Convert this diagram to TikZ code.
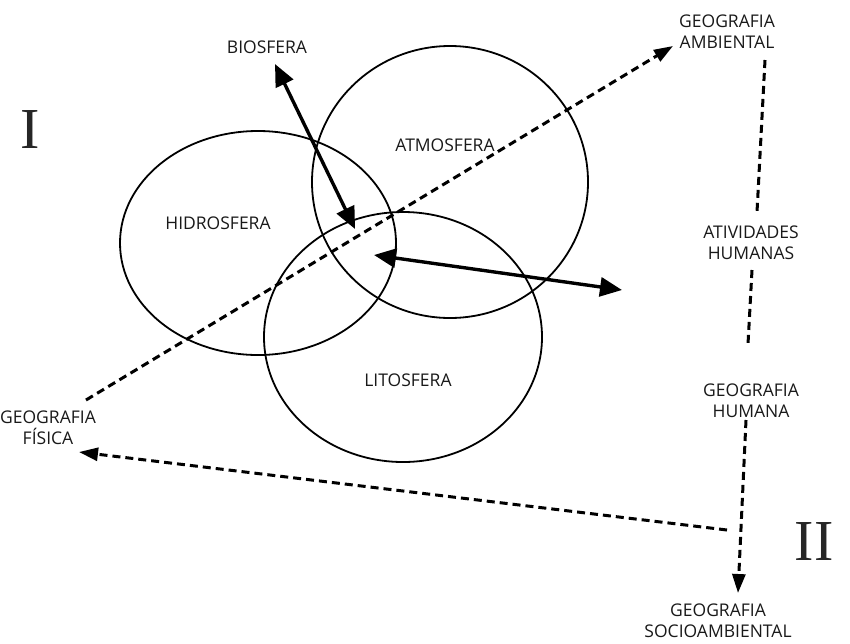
\documentclass[tikz,border=0pt]{standalone}
\usepackage{fontspec}
\setmainfont{Open Sans}
\newfontfamily\romfont{Liberation Serif}
\usetikzlibrary{arrows.meta}
\begin{document}
\begin{tikzpicture}[x=1pt,y=-1pt,
  lbl/.style={font=\fontsize{17.5}{21}\selectfont, text=black!90, align=center, inner sep=1pt},
  roman/.style={font=\romfont\fontsize{58}{58}\selectfont, text=black!85, inner sep=0pt},
  sphere/.style={draw, line width=1.8pt},
  solidarrow/.style={line width=3.4pt, {Triangle[length=22pt,width=19pt]}-{Triangle[length=22pt,width=19pt]}},
  dasharrow/.style={line width=3pt, dash pattern=on 8pt off 5pt, -{Triangle[length=19pt,width=13pt]}},
  dashline/.style={line width=3pt, dash pattern=on 8pt off 5pt}]
\useasboundingbox (0,0) rectangle (850,643);
% spheres
\draw[sphere] (258,243) ellipse [x radius=138, y radius=112];
\draw[sphere] (450,182) ellipse [x radius=138, y radius=136];
\draw[sphere] (403,337) ellipse [x radius=139, y radius=125];
% labels
\node[lbl] (bio) at (267,47) {BIOSFERA};
\node[lbl] (atm) at (445,145) {ATMOSFERA};
\node[lbl] (hid) at (218,223) {HIDROSFERA};
\node[lbl] (lit) at (408,380) {LITOSFERA};
\node[lbl] (amb) at (727,32) {GEOGRAFIA\\AMBIENTAL};
\node[lbl] (ati) at (751,243) {ATIVIDADES\\HUMANAS};
\node[lbl] (hum) at (751,401) {GEOGRAFIA\\HUMANA};
\node[lbl] (fis) at (48,428) {GEOGRAFIA\\FÍSICA};
\node[lbl] (soc) at (718,621) {GEOGRAFIA\\SOCIOAMBIENTAL};
\node[roman] (r1) at (30,130) {I};
\node[roman] (r2) at (814,541) {II};
% coordinates
\coordinate (b1) at (275,64);
\coordinate (b2) at (355,229);
\coordinate (c1) at (374,255);
\coordinate (c2) at (622,290);
\coordinate (f1) at (86,400);
\coordinate (a1) at (673,46);
\coordinate (s1) at (727,530);
\coordinate (f2) at (79,452);
\coordinate (v1) at (765,60);
\coordinate (v2) at (757,212);
\coordinate (v3) at (752,270);
\coordinate (v4) at (748,344);
\coordinate (h1) at (746,420);
\coordinate (h2) at (738,593);
% solid arrows
\draw[solidarrow] (b1) -- (b2);
\draw[solidarrow] (c1) -- (c2);
% dashed arrows
\draw[dasharrow] (f1) -- (a1);
\draw[dasharrow] (s1) -- (f2);
\draw[dashline] (v1) -- (v2);
\draw[dashline] (v3) -- (v4);
\draw[dasharrow] (h1) -- (h2);
\end{tikzpicture}
\end{document}
